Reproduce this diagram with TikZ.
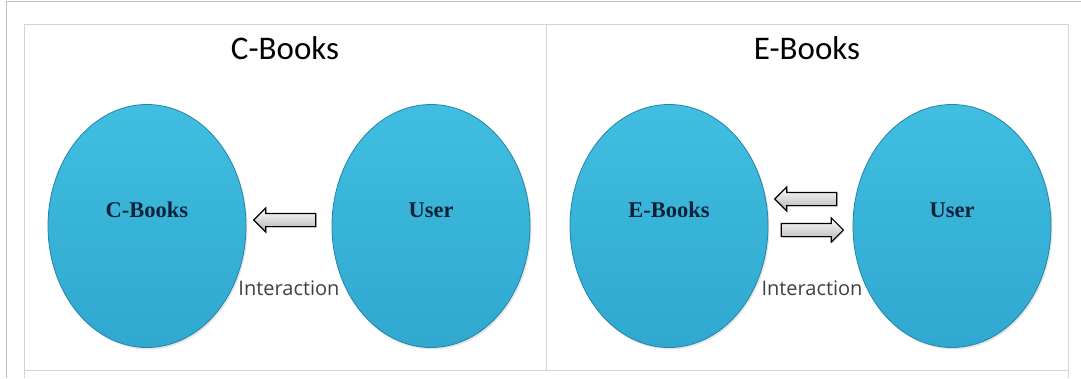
\documentclass[tikz,border=0pt]{standalone}
\usepackage{fontspec}
\setmainfont{Liberation Serif}
\newfontfamily\calib{Carlito}
\newfontfamily\osans{Open Sans}
\usetikzlibrary{shapes.geometric,shapes.arrows,shadows}

\definecolor{booktop}{RGB}{64,190,224}
\definecolor{bookbot}{RGB}{48,168,208}
\definecolor{bookedge}{RGB}{36,132,170}
\definecolor{labelnavy}{RGB}{12,34,58}
\definecolor{gridline}{RGB}{205,213,224}
\definecolor{framegrey}{RGB}{190,192,196}

\begin{document}
\begin{tikzpicture}[x=1pt,y=-1pt,
	circ/.style={ellipse,minimum width=198pt,minimum height=243pt,inner sep=0pt,
		draw=bookedge,line width=0.8pt,top color=booktop,bottom color=bookbot,
		drop shadow={opacity=0.2,shadow xshift=1.5pt,shadow yshift=-2pt}},
	inlbl/.style={font=\fontsize{22.5}{22.5}\selectfont\bfseries,text=labelnavy},
	ttl/.style={font=\calib\fontsize{33}{33}\selectfont,text=black},
	ilbl/.style={font=\osans\fontsize{20}{20}\selectfont,text=black!75},
	fatarrow/.style={single arrow,draw=black,line width=1.1pt,inner xsep=0pt,inner ysep=6pt,
		minimum height=62pt,single arrow head extend=5.5pt,
		top color=white,bottom color=black!30,
		drop shadow={opacity=0.25,shadow xshift=1pt,shadow yshift=-1.5pt}}]

	\useasboundingbox (0,0) rectangle (1081,378);

	% frame and table lines
	\draw [framegrey,line width=1pt] (6,378) -- (6,1) -- (1081,1);
	\draw [gridline,line width=1pt] (24,378) -- (24,24) -- (1068,24) -- (1068,378);
	\draw [gridline,line width=1pt] (24,370) -- (1068,370);
	\draw [gridline,line width=1pt] (546,24) -- (546,370);

	% titles
	\node [ttl] (ctitle) at (285,48) {C-Books};
	\node [ttl] (etitle) at (807,48) {E-Books};

	% left panel
	\node [circ] (cbook) at (147,226) {};
	\node [circ] (cuser) at (431,226) {};
	\node [inlbl] (cbooklbl) at ([yshift=16pt]cbook.center) {C-Books};
	\node [inlbl] (cuserlbl) at ([yshift=16pt]cuser.center) {User};
	\node [fatarrow,shape border rotate=180] (carrow) at (288,220) {};
	\node [ilbl] (cinter) at (289,288) {Interaction};

	% right panel
	\node [circ] (ebook) at (669,226) {};
	\node [circ] (euser) at (952,226) {};
	\node [inlbl] (ebooklbl) at ([yshift=16pt]ebook.center) {E-Books};
	\node [inlbl] (euserlbl) at ([yshift=16pt]euser.center) {User};
	\node [fatarrow,shape border rotate=180] (eback) at (809,199) {};
	\node [fatarrow] (eforth) at (809,230) {};
	\node [ilbl] (einter) at (812,288) {Interaction};

\end{tikzpicture}
\end{document}
